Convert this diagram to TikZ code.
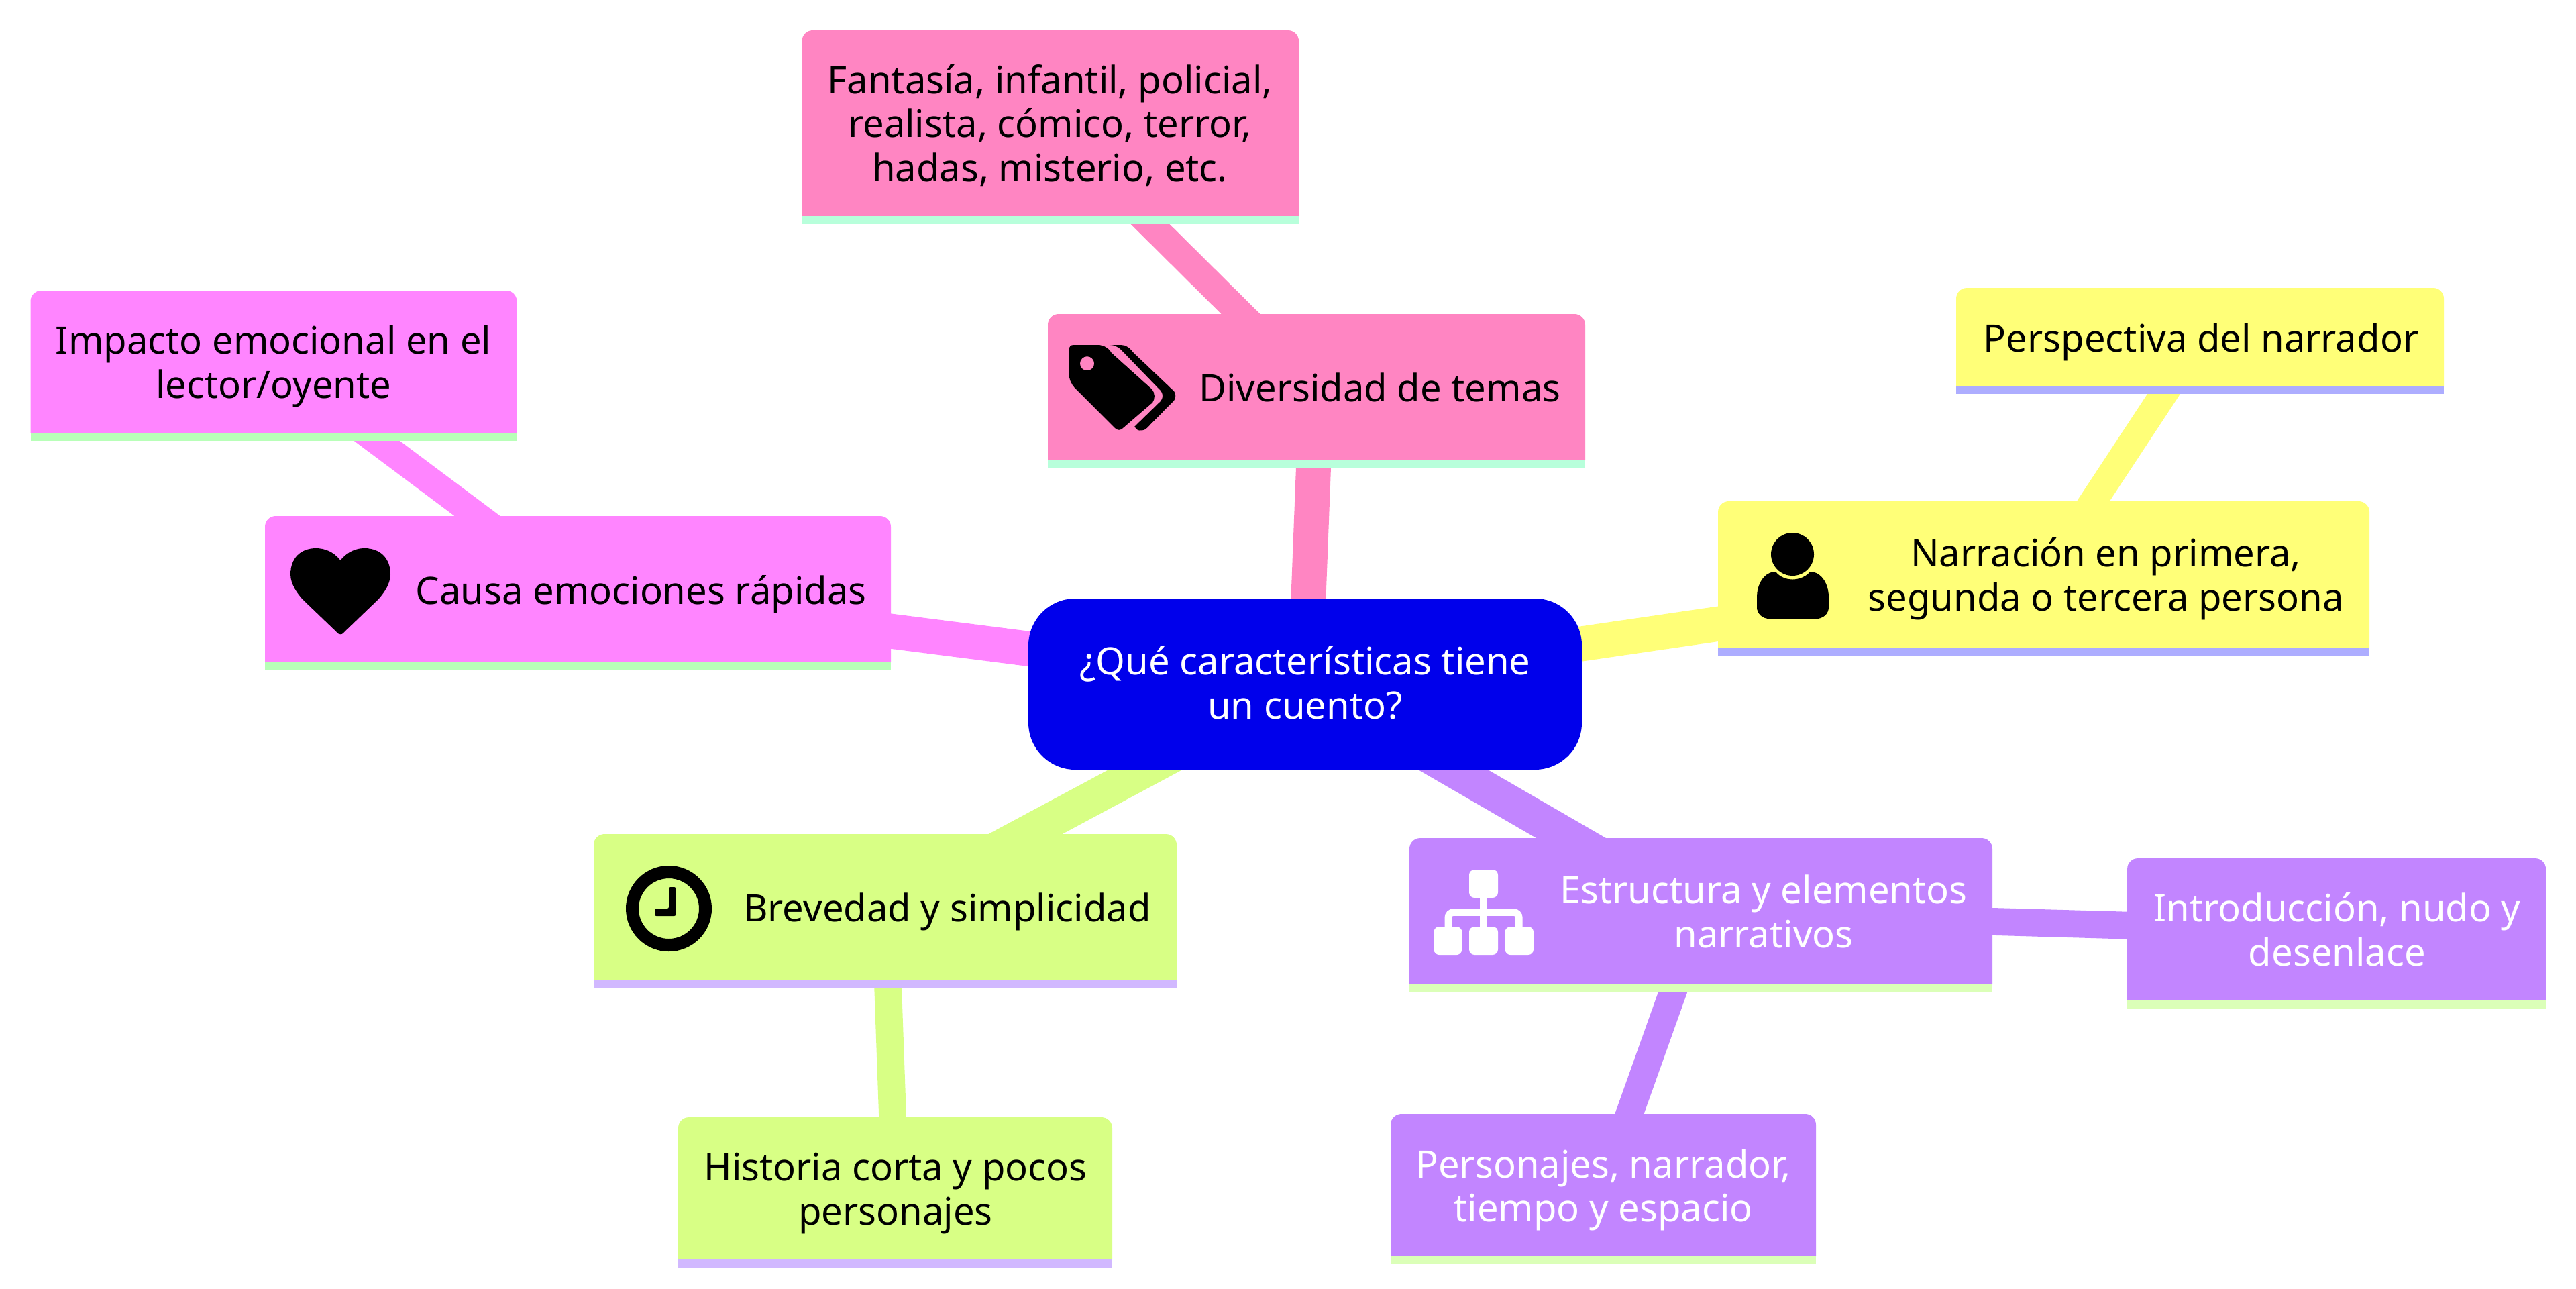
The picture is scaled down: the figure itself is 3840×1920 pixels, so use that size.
\documentclass[tikz,border=0pt]{standalone}
\usepackage{fontspec}
\setmainfont{Noto Sans}
\definecolor{rootfill}{HTML}{0000EB}
\definecolor{pinkfill}{HTML}{FF85C2}\definecolor{pinkstrip}{HTML}{B8FFDB}\colorlet{pinktext}{black}
\definecolor{magfill}{HTML}{FF85FF}\definecolor{magstrip}{HTML}{B8FFB8}\colorlet{magtext}{black}
\definecolor{yelfill}{HTML}{FFFF78}\definecolor{yelstrip}{HTML}{ADADFF}\colorlet{yeltext}{black}
\definecolor{grnfill}{HTML}{D8FF85}\definecolor{grnstrip}{HTML}{D1B8FF}\colorlet{grntext}{black}
\definecolor{purfill}{HTML}{C285FF}\definecolor{purstrip}{HTML}{DBFFB8}\colorlet{purtext}{white}
\pgfdeclarelayer{edges}\pgfdeclarelayer{boxes}
\pgfsetlayers{edges,boxes,main}
\tikzset{
  mnode/.style={rectangle,inner sep=0pt,outer sep=0pt,font=\fontsize{14.04}{16.4}\selectfont},
  trunk/.style={line width=13pt,line cap=butt},
  twig/.style={line width=10.2pt,line cap=butt}
}
\newcommand\mmnode[9]{%
  \pgfmathsetmacro\mcx{(#2+#4)/2}\pgfmathsetmacro\mcy{(#3+#5)/2}%
  \pgfmathsetmacro\mw{(#4-#2)*0.25}\pgfmathsetmacro\mh{(#5-#3)*0.25}%
  \pgfmathsetmacro\mdx{(#7-\mcx)*0.5}\pgfmathsetmacro\mdy{(\mcy-#8)*0.25-0.4}%
  \node[mnode,text=#6text,minimum width=\mw pt,minimum height=\mh pt] (#1) at (\mcx,\mcy)
    {\makebox[0pt]{\hspace*{\mdx pt}\raisebox{\mdy pt}[0pt][0pt]{\begin{tabular}{@{}c@{}}#9\end{tabular}}}};
  \begin{pgfonlayer}{boxes}
    \fill[#6fill] (#1.south west) [rounded corners=4pt] -- (#1.north west) -- (#1.north east) [sharp corners] -- (#1.south east) -- cycle;
    \fill[#6strip] (#1.south west) rectangle ([yshift=-2.9pt]#1.south east);
  \end{pgfonlayer}
}
\newcommand\hub[1]{([yshift=-0.75pt]#1.center)}
\begin{document}
\begin{tikzpicture}[x=0.25pt,y=-0.25pt]
\path[use as bounding box] (0,0) rectangle (3840,1920);
% root
\pgfmathsetmacro\mdy{(1019.5-1038)*0.25-0.4}
\node[mnode,text=white,minimum width=206.25pt,minimum height=63.75pt,fill=rootfill,rounded corners=17.5pt] (root) at (1945.5,1019.5)
  {\makebox[0pt]{\raisebox{\mdy pt}[0pt][0pt]{\begin{tabular}{@{}c@{}}¿Qué características tiene\\un cuento?\end{tabular}}}};
% sections
\mmnode{temas}{1562}{468}{2363}{686}{pink}{2057}{597.7}{Diversidad de temas}
\mmnode{emo}{395}{769}{1328}{987}{mag}{955.6}{900}{Causa emociones rápidas}
\mmnode{narr}{2561}{747}{3532}{965}{yel}{3139}{877}{Narración en primera,\\segunda o tercera persona}
\mmnode{brev}{885}{1243}{1754}{1461}{grn}{1412}{1373.3}{Brevedad y simplicidad}
\mmnode{estr}{2101}{1249}{2970}{1467}{pur}{2629}{1379}{Estructura y elementos\\narrativos}
% leaves
\mmnode{fant}{1195.5}{45}{1936}{322}{pink}{1565}{204.3}{Fantasía, infantil, policial,\\realista, cómico, terror,\\hadas, misterio, etc.}
\mmnode{imp}{45.5}{433}{770.5}{645}{mag}{407.7}{560}{Impacto emocional en el\\lector/oyente}
\mmnode{persp}{2916}{429}{3643}{575}{yel}{3281}{524}{Perspectiva del narrador}
\mmnode{hist}{1011}{1665}{1658}{1877}{grn}{1335}{1792}{Historia corta y pocos\\personajes}
\mmnode{intro}{3171}{1279}{3795}{1491}{pur}{3484}{1406.3}{Introducción, nudo y\\desenlace}
\mmnode{pers}{2073}{1660}{2707}{1872}{pur}{2390}{1787.5}{Personajes, narrador,\\tiempo y espacio}
% connectors
\begin{pgfonlayer}{edges}
\draw[trunk,pinkfill] (root.center) -- \hub{temas};
\draw[trunk,magfill] (root.center) -- \hub{emo};
\draw[trunk,yelfill] (root.center) -- \hub{narr};
\draw[trunk,grnfill] (root.center) -- \hub{brev};
\draw[trunk,purfill] (root.center) -- \hub{estr};
\draw[twig,pinkfill] \hub{temas} -- \hub{fant};
\draw[twig,magfill] \hub{emo} -- \hub{imp};
\draw[twig,yelfill] \hub{narr} -- \hub{persp};
\draw[twig,grnfill] \hub{brev} -- \hub{hist};
\draw[twig,purfill] \hub{estr} -- \hub{intro};
\draw[twig,purfill] \hub{estr} -- \hub{pers};
\end{pgfonlayer}
% icon: tags
\fill[black,even odd rule] (1600,514) -- (1636,514) .. controls (1645,514) and (1652,518) .. (1657,526) -- (1717,580) .. controls (1722,586) and (1722,594) .. (1718,600) -- (1675,637) .. controls (1671,642) and (1665,642) .. (1661,637) -- (1602,578) .. controls (1597,572) and (1593.6,566) .. (1593.6,556) -- (1593.6,521) .. controls (1593.6,517) and (1596,514) .. (1600,514) -- cycle
  (1620.5,541.7) circle[radius=10.6];
\fill[black] (1655,514) -- (1671,514) .. controls (1678,514) and (1684,518) .. (1689,525) -- (1750,583) .. controls (1753,587) and (1753,593) .. (1750,597) -- (1709.5,638) .. controls (1706,642) and (1699,642) .. (1696,641) -- (1691,636) -- (1730,598) .. controls (1734,594) and (1734,586) .. (1730,582) -- (1672,522) .. controls (1667,517) and (1661,514) .. (1655,514) -- cycle;
% icon: heart
\fill[black] (507.5,835) .. controls (497,822) and (484,817) .. (471,817) .. controls (448,817) and (433,832) .. (433,856) .. controls (433,870) and (443,885) .. (453,895) -- (503,943) .. controls (505,946) and (510,946) .. (512,943) -- (562,895) .. controls (572,885) and (582,870) .. (582,856) .. controls (582,832) and (567,817) .. (543,817) .. controls (531,817) and (518,822) .. (507.5,835) -- cycle;
% icon: user
\fill[black] (2672,826) circle[radius=32];
\fill[black] (2672,863.5) .. controls (2662,863.5) and (2652,859) .. (2647,852) .. controls (2630,852) and (2619,870) .. (2619,890) -- (2619,905) .. controls (2619,915) and (2628,922) .. (2637,922) -- (2708,922) .. controls (2717,922) and (2726,915) .. (2726,905) -- (2726,890) .. controls (2726,870) and (2715,852) .. (2698,852) .. controls (2693,859) and (2682,863.5) .. (2672,863.5) -- cycle;
% icon: clock
\draw[black,line width=4.75pt] (997,1354) circle[radius=54.5];
\fill[black,rounded corners=0.6pt] (997,1322) -- (1007.4,1322) -- (1007.4,1365) -- (976,1365) -- (976,1354) -- (997,1354) -- cycle;
% icon: sitemap
\fill[white,rounded corners=2pt] (2190,1296) rectangle (2233,1338);
\fill[white,rounded corners=2pt] (2137.4,1381) rectangle (2179.3,1423);
\fill[white,rounded corners=2pt] (2190,1381) rectangle (2233,1423);
\fill[white,rounded corners=2pt] (2243.6,1381) rectangle (2286,1423);
\draw[white,line width=2.65pt,rounded corners=2pt] (2158.8,1382) -- (2158.8,1359.5) -- (2264.3,1359.5) -- (2264.3,1382);
\draw[white,line width=2.65pt] (2211.5,1337) -- (2211.5,1382);
\end{tikzpicture}
\end{document}
